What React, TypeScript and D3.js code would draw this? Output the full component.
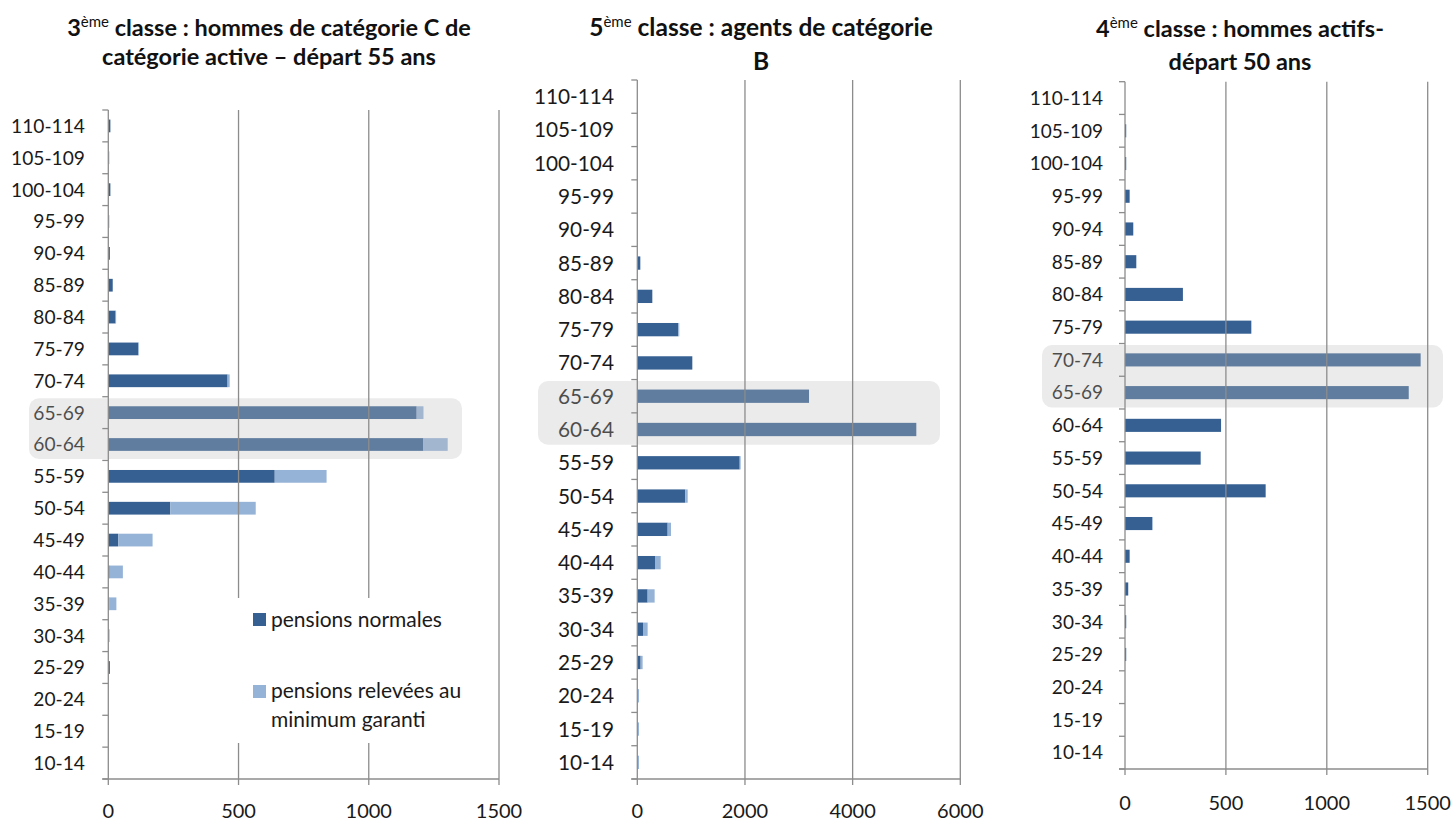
import React, { useEffect, useRef } from 'react';
import * as d3 from 'd3';

// age groups, top to bottom as in the chart
const ageGroups = [
  '110-114', '105-109', '100-104', '95-99', '90-94', '85-89', '80-84', '75-79',
  '70-74', '65-69', '60-64', '55-59', '50-54', '45-49', '40-44', '35-39',
  '30-34', '25-29', '20-24', '15-19', '10-14',
];

// 3ème classe : hommes de catégorie C de catégorie active
const c3Normales = [8, 0, 8, 0, 6, 17, 28, 115, 458, 1184, 1210, 639, 238, 38, 5, 4, 0, 6, 0, 0, 0];
const c3Relevees = [0, 4, 0, 4, 0, 0, 2, 3, 8, 26, 93, 199, 328, 132, 51, 27, 5, 0, 0, 0, 0];

// 5ème classe : agents de catégorie B
const c5Normales = [0, 0, 0, 0, 0, 56, 279, 762, 1022, 3190, 5183, 1902, 892, 564, 329, 192, 106, 62, 0, 0, 0];
const c5Relevees = [0, 0, 0, 0, 0, 0, 0, 18, 0, 0, 0, 18, 44, 62, 105, 130, 86, 37, 31, 31, 31];

// 4ème classe : hommes actifs - départ 50 ans
const c4Normales = [0, 6, 6, 23, 41, 56, 287, 626, 1465, 1406, 476, 375, 697, 135, 23, 16, 6, 6, 0, 0, 0];
const c4Relevees = [0, 0, 0, 0, 0, 0, 0, 0, 0, 0, 0, 0, 0, 3, 0, 0, 0, 0, 0, 0, 0];

const ticks1500 = [0, 500, 1000, 1500];
const ticks6000 = [0, 2000, 4000, 6000];

const legendLabels = ['pensions normales', 'pensions relevées au', 'minimum garanti'];

const DARK = '#366092';
const LIGHT = '#95b3d7';
const GRID = '#8c8c8c';
const FONT = 'Lato, Carlito, Calibri, sans-serif';

interface Panel {
  title: [string, string, string]; // number, rest of line 1, line 2
  normales: number[];
  relevees: number[];
  ticks: number[];
  x0: number; x1: number; top: number; bottom: number;
  labelRight: number; labelSize: number;
  titleX: number; titleY: number; titleGap: number; titleSize: number;
  tickY: number;
  highlight: string[];
  hlX0: number; hlX1: number;
}

const panels: Panel[] = [
  {
    title: ['3', ' classe : hommes de catégorie C de', 'catégorie active – départ 55 ans'],
    normales: c3Normales, relevees: c3Relevees, ticks: ticks1500,
    x0: 108.3, x1: 499, top: 110, bottom: 779,
    labelRight: 85, labelSize: 19.2,
    titleX: 269, titleY: 36, titleGap: 29, titleSize: 23.5,
    tickY: 818,
    highlight: ['65-69', '60-64'], hlX0: 29, hlX1: 462,
  },
  {
    title: ['5', ' classe : agents de catégorie', 'B'],
    normales: c5Normales, relevees: c5Relevees, ticks: ticks6000,
    x0: 637.3, x1: 960.3, top: 80, bottom: 779,
    labelRight: 614, labelSize: 20.8,
    titleX: 761, titleY: 36, titleGap: 34, titleSize: 24.5,
    tickY: 818,
    highlight: ['65-69', '60-64'], hlX0: 538, hlX1: 940,
  },
  {
    title: ['4', ' classe : hommes actifs-', 'départ 50 ans'],
    normales: c4Normales, relevees: c4Relevees, ticks: ticks1500,
    x0: 1125, x1: 1427.7, top: 81.7, bottom: 769,
    labelRight: 1103, labelSize: 19,
    titleX: 1240, titleY: 36.5, titleGap: 33, titleSize: 23.5,
    tickY: 810,
    highlight: ['70-74', '65-69'], hlX0: 1042, hlX1: 1443,
  },
];

const App: React.FC = () => {
  const ref = useRef<SVGSVGElement>(null);

  useEffect(() => {
    if (!ref.current) return;
    const svg = d3.select(ref.current);
    svg.selectAll('*').remove();

    panels.forEach((p) => {
      const g = svg.append('g');
      const dom = p.ticks[p.ticks.length - 1];
      const x = d3.scaleLinear().domain([0, dom]).range([p.x0, p.x1]);
      const y = d3.scaleBand<string>().domain(ageGroups).range([p.top, p.bottom])
        .paddingInner(0.6).paddingOuter(0.3);
      const step = y.step();

      // title
      const t = g.append('text')
        .attr('x', p.titleX).attr('y', p.titleY)
        .attr('text-anchor', 'middle')
        .attr('font-family', FONT).attr('font-weight', 700).attr('font-size', p.titleSize)
        .attr('fill', '#111');
      t.append('tspan').text(p.title[0]);
      t.append('tspan').attr('font-size', 15).attr('font-weight', 400).attr('dy', -9).text('ème');
      t.append('tspan').attr('dy', 9).text(p.title[1]);
      g.append('text')
        .attr('x', p.titleX).attr('y', p.titleY + p.titleGap)
        .attr('text-anchor', 'middle')
        .attr('font-family', FONT).attr('font-weight', 700).attr('font-size', p.titleSize)
        .attr('fill', '#111')
        .text(p.title[2]);

      // bars
      const rows = ageGroups.map((a, i) => ({ a, n: p.normales[i], r: p.relevees[i] }));
      g.selectAll('rect.n').data(rows.filter(d => d.n > 0)).enter().append('rect')
        .attr('x', x(0)).attr('y', d => y(d.a)!)
        .attr('width', d => x(d.n) - x(0)).attr('height', y.bandwidth())
        .attr('fill', DARK);
      g.selectAll('rect.r').data(rows.filter(d => d.r > 0)).enter().append('rect')
        .attr('x', d => x(d.n)).attr('y', d => y(d.a)!)
        .attr('width', d => x(d.n + d.r) - x(d.n)).attr('height', y.bandwidth())
        .attr('fill', LIGHT);

      // category labels
      g.selectAll('text.cat').data(ageGroups).enter().append('text')
        .attr('x', p.labelRight)
        .attr('y', d => y(d)! + y.bandwidth() / 2)
        .attr('dy', '0.36em')
        .attr('text-anchor', 'end')
        .attr('font-family', FONT).attr('font-size', p.labelSize)
        .attr('fill', '#1a1a1a')
        .text(d => d);

      // highlight box over the two peak rows
      const hlTop = y(p.highlight[0])! - step * 0.3 + 1.5;
      const hlBot = y(p.highlight[p.highlight.length - 1])! + y.bandwidth() + step * 0.3 - 1.5;
      g.append('rect')
        .attr('x', p.hlX0).attr('y', hlTop)
        .attr('width', p.hlX1 - p.hlX0).attr('height', hlBot - hlTop)
        .attr('rx', 10)
        .attr('fill', '#bfbfbf').attr('fill-opacity', 0.31);

      // gridlines and value ticks
      g.selectAll('line.grid').data(p.ticks).enter().append('line')
        .attr('x1', d => x(d)).attr('x2', d => x(d))
        .attr('y1', p.top).attr('y2', p.bottom + 6)
        .attr('stroke', GRID).attr('stroke-width', 1.3);

      // category axis
      g.append('line')
        .attr('x1', p.x0 - 6).attr('x2', x(dom))
        .attr('y1', p.bottom).attr('y2', p.bottom)
        .attr('stroke', GRID).attr('stroke-width', 1.3);
      g.selectAll('line.ctick').data(d3.range(ageGroups.length + 1)).enter().append('line')
        .attr('x1', p.x0 - 6).attr('x2', p.x0)
        .attr('y1', i => p.top + i * step).attr('y2', i => p.top + i * step)
        .attr('stroke', GRID).attr('stroke-width', 1.3);

      // value tick labels
      g.selectAll('text.tick').data(p.ticks).enter().append('text')
        .attr('x', d => x(d)).attr('y', p.tickY)
        .attr('text-anchor', 'middle')
        .attr('font-family', FONT).attr('font-size', 20)
        .attr('fill', '#1a1a1a')
        .text(d => String(d));
    });

    // legend in first panel, white box hides the gridlines behind it
    const lg = svg.append('g');
    lg.append('rect').attr('x', 232).attr('y', 598).attr('width', 258).attr('height', 145).attr('fill', '#fff');
    lg.append('rect').attr('x', 253).attr('y', 613).attr('width', 13).attr('height', 13).attr('fill', DARK);
    lg.append('rect').attr('x', 253).attr('y', 685).attr('width', 13).attr('height', 13).attr('fill', LIGHT);
    const lt = [
      { s: legendLabels[0], y: 627 },
      { s: legendLabels[1], y: 698 },
      { s: legendLabels[2], y: 727 },
    ];
    lg.selectAll('text').data(lt).enter().append('text')
      .attr('x', 271).attr('y', d => d.y)
      .attr('font-family', FONT).attr('font-size', 21)
      .attr('fill', '#1a1a1a')
      .text(d => d.s);
  }, []);

  return (
    <svg
      ref={ref}
      width={1454}
      height={822}
      style={{ position: 'absolute', left: 0, top: 0, background: '#fff' }}
    />
  );
};

export default App;
